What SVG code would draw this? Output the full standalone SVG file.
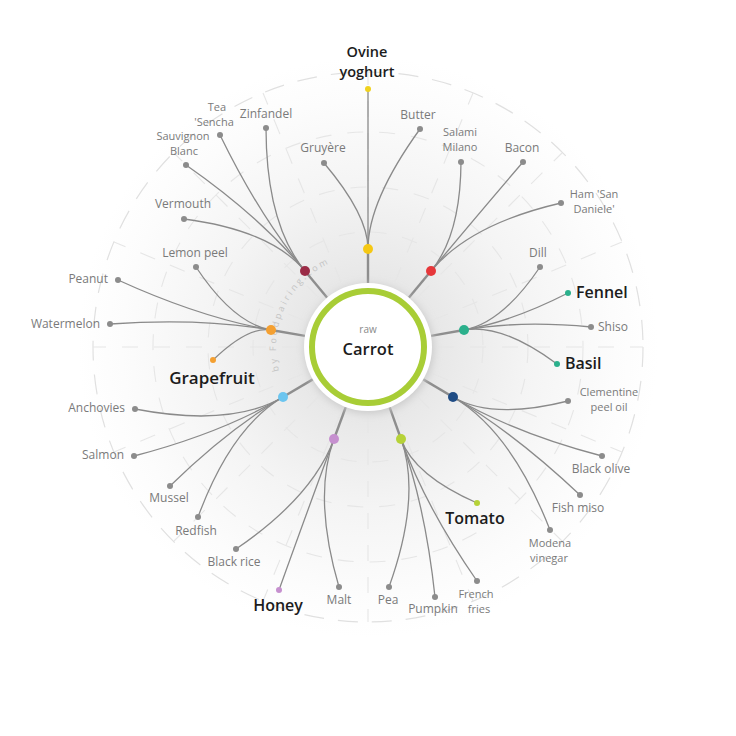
<svg xmlns="http://www.w3.org/2000/svg" width="736" height="736" viewBox="0 0 736 736">
<defs>
  <radialGradient id="bg" cx="368" cy="347" r="290" gradientUnits="userSpaceOnUse">
    <stop offset="0" stop-color="#d6d6d6"/>
    <stop offset="0.25" stop-color="#e8e8e8"/>
    <stop offset="0.55" stop-color="#f4f4f4"/>
    <stop offset="0.85" stop-color="#fcfcfc"/>
    <stop offset="1" stop-color="#ffffff"/>
  </radialGradient>
  <filter id="sh" x="-30%" y="-30%" width="160%" height="160%">
    <feGaussianBlur stdDeviation="4"/>
  </filter>
  <path id="brand" d="M 279.1 370.8 A 92 92 0 0 1 333.5 261.7"/>
</defs>
<style>
  .grid { fill: none; stroke: #e0e0e0; stroke-width: 1.2; stroke-dasharray: 20 14; }
  .gridr { fill: none; stroke: #e6e6e6; stroke-width: 1.1; stroke-dasharray: 16 16; }
  .spoke { fill: none; stroke: #8e8e8e; stroke-width: 2.4; }
  .link { fill: none; stroke: #8a8a8a; stroke-width: 1.3; }
  .leaf { fill: #8c8c8c; }
  .lbl { font-family: "Open Sans", "Liberation Sans", sans-serif; font-size: 12px; fill: #7a7a7a; text-anchor: middle; }
  .two { font-size: 11px; }
  .big { font-family: "Open Sans", "Liberation Sans", sans-serif; font-size: 16px; font-weight: 600; fill: #1c1c1c; text-anchor: middle; }
  .st { text-anchor: start; }
  .en { text-anchor: end; }
  .brand { font-family: "Open Sans", "Liberation Sans", sans-serif; font-size: 9px; fill: #c4c4c4; letter-spacing: 2.6px; }
</style>

<g id="background">
  <circle cx="368" cy="347" r="290" fill="url(#bg)"/>
  <circle class="grid" cx="368" cy="347" r="275"/>
  <circle class="gridr" cx="368" cy="347" r="215"/>
  <circle class="gridr" cx="368" cy="347" r="160"/>
  <circle class="gridr" cx="368" cy="347" r="115"/>
  <g class="gridr">
    <line x1="368" y1="277" x2="368" y2="72"/>
    <line x1="368" y1="417" x2="368" y2="622"/>
    <line x1="298" y1="347" x2="93" y2="347"/>
    <line x1="438" y1="347" x2="643" y2="347"/>
    <line x1="418" y1="297" x2="562" y2="153"/>
    <line x1="318" y1="297" x2="174" y2="153"/>
    <line x1="418" y1="397" x2="562" y2="541"/>
    <line x1="318" y1="397" x2="174" y2="541"/>
    <line x1="341" y1="282" x2="263" y2="93"/>
    <line x1="395" y1="282" x2="473" y2="93"/>
    <line x1="341" y1="412" x2="263" y2="601"/>
    <line x1="395" y1="412" x2="473" y2="601"/>
    <line x1="303" y1="320" x2="114" y2="242"/>
    <line x1="433" y1="320" x2="622" y2="242"/>
    <line x1="303" y1="374" x2="114" y2="452"/>
    <line x1="433" y1="374" x2="622" y2="452"/>
  </g>
  <text class="brand"><textPath href="#brand">by Foodpairing.com</textPath></text>
</g>

<g id="connectors">
  <!-- spokes -->
  <line class="spoke" x1="368" y1="283" x2="368" y2="249"/>
  <line class="spoke" x1="327.2" y1="297.7" x2="305" y2="271"/>
  <line class="spoke" x1="408.8" y1="297.7" x2="431" y2="271"/>
  <line class="spoke" x1="431" y1="335.9" x2="464" y2="330"/>
  <line class="spoke" x1="423.2" y1="379.4" x2="453" y2="397"/>
  <line class="spoke" x1="389.6" y1="407.2" x2="401" y2="439"/>
  <line class="spoke" x1="345.8" y1="407" x2="334" y2="439"/>
  <line class="spoke" x1="312.8" y1="379.4" x2="283" y2="397"/>
  <line class="spoke" x1="305" y1="335.9" x2="271" y2="330"/>
  <!-- yellow cluster -->
  <path class="link" d="M368,249 L368,89"/>
  <path class="link" d="M368,249 Q368,201 420,129"/>
  <path class="link" d="M368,249 Q368,215 324,163"/>
  <!-- dark red cluster -->
  <path class="link" d="M305,271 Q266.2,224.2 266,128"/>
  <path class="link" d="M305,271 Q259.4,215.9 220,135"/>
  <path class="link" d="M305,271 Q259.8,216.4 186,165"/>
  <path class="link" d="M305,271 Q271.4,230.4 184,219"/>
  <!-- red cluster -->
  <path class="link" d="M431,271 Q460.6,235.3 461,162"/>
  <path class="link" d="M431,271 Q472,221.6 523,162"/>
  <path class="link" d="M431,271 Q469.9,224.1 561,203"/>
  <!-- teal cluster -->
  <path class="link" d="M464,330 Q502,323.3 540,267"/>
  <path class="link" d="M464,330 Q512.3,321.5 568,293"/>
  <path class="link" d="M464,330 Q519.7,320.2 591,327"/>
  <path class="link" d="M464,330 Q502,323.3 557,364"/>
  <!-- navy cluster -->
  <path class="link" d="M453,397 Q492.2,420.1 568,401"/>
  <path class="link" d="M453,397 Q514.4,433.1 602,456"/>
  <path class="link" d="M453,397 Q514.7,433.3 580,495"/>
  <path class="link" d="M453,397 Q511.6,431.5 550,530"/>
  <!-- yellow-green cluster -->
  <path class="link" d="M401,439 Q414.1,475.4 477,503"/>
  <path class="link" d="M401,439 Q425.2,506.5 477,581"/>
  <path class="link" d="M401,439 Q425.4,506.8 435,597"/>
  <path class="link" d="M401,439 Q421.6,496.2 389,587"/>
  <!-- purple cluster -->
  <path class="link" d="M334,439 Q312.6,496.9 339,587"/>
  <path class="link" d="M334,439 Q308.9,506.8 279,590"/>
  <path class="link" d="M334,439 Q312.6,496.9 236,549"/>
  <!-- light blue cluster -->
  <path class="link" d="M283,397 Q231.1,427.5 135,409"/>
  <path class="link" d="M283,397 Q221.6,433.1 134,456"/>
  <path class="link" d="M283,397 Q227.7,429.5 170,486"/>
  <path class="link" d="M283,397 Q231,427.6 198,517"/>
  <!-- orange cluster -->
  <path class="link" d="M271,330 Q200.4,317.6 118,280"/>
  <path class="link" d="M271,330 Q200.3,317.6 110,324"/>
  <path class="link" d="M271,330 Q233.4,323.4 196,267"/>
  <path class="link" d="M271,330 Q248,326 213,360"/>
</g>

<g id="center">
  <circle cx="369" cy="349" r="64" fill="#c8c8c8" filter="url(#sh)"/>
  <circle cx="368" cy="347" r="64" fill="#ffffff"/>
  <circle cx="368" cy="347" r="56" fill="#ffffff" stroke="#a8cd36" stroke-width="6"/>
  <text class="lbl" x="368" y="333" style="font-size:10px;fill:#8a8a8a">raw</text>
  <text class="big" x="368" y="355" style="font-size:16.5px">Carrot</text>
</g>

<g id="hubs">
  <g id="hub-dairy"><circle cx="368" cy="249" r="5" fill="#f5c814"/></g>
  <g id="hub-wine"><circle cx="305" cy="271" r="5" fill="#9b2c47"/></g>
  <g id="hub-meat"><circle cx="431" cy="271" r="5" fill="#e6373a"/></g>
  <g id="hub-herbs"><circle cx="464" cy="330" r="5" fill="#2bb08c"/></g>
  <g id="hub-savory"><circle cx="453" cy="397" r="5" fill="#1f4c84"/></g>
  <g id="hub-veg"><circle cx="401" cy="439" r="5" fill="#b6d238"/></g>
  <g id="hub-sweet"><circle cx="334" cy="439" r="5" fill="#c690cf"/></g>
  <g id="hub-fish"><circle cx="283" cy="397" r="5" fill="#6cc5ef"/></g>
  <g id="hub-fruit"><circle cx="271" cy="330" r="5" fill="#f4a032"/></g>
</g>

<g id="ovine-yoghurt"><circle cx="368" cy="89" r="3" fill="#f0d21e"/><text class="big" x="367" y="57" style="font-size:14.5px">Ovine<tspan x="367" dy="20">yoghurt</tspan></text></g>
<g id="butter"><circle class="leaf" cx="420" cy="129" r="3"/><text class="lbl" x="418" y="119">Butter</text></g>
<g id="gruyere"><circle class="leaf" cx="324" cy="163" r="3"/><text class="lbl" x="323" y="152">Gruyère</text></g>

<g id="zinfandel"><circle class="leaf" cx="266" cy="128" r="3"/><text class="lbl" x="266" y="118">Zinfandel</text></g>
<g id="tea-sencha"><circle class="leaf" cx="220" cy="135" r="3"/><text class="lbl two" x="217" y="111">Tea<tspan x="214" dy="15">'Sencha</tspan></text></g>
<g id="sauvignon-blanc"><circle class="leaf" cx="186" cy="165" r="3"/><text class="lbl two" x="183" y="140">Sauvignon<tspan x="184" dy="15">Blanc</tspan></text></g>
<g id="vermouth"><circle class="leaf" cx="184" cy="219" r="3"/><text class="lbl" x="183" y="208">Vermouth</text></g>

<g id="salami-milano"><circle class="leaf" cx="461" cy="162" r="3"/><text class="lbl two" x="460" y="136">Salami<tspan x="460" dy="15">Milano</tspan></text></g>
<g id="bacon"><circle class="leaf" cx="523" cy="162" r="3"/><text class="lbl" x="522" y="152">Bacon</text></g>
<g id="ham-san-daniele"><circle class="leaf" cx="561" cy="203" r="3"/><text class="lbl two" x="594" y="198">Ham 'San<tspan x="594" dy="15">Daniele'</tspan></text></g>

<g id="dill"><circle class="leaf" cx="540" cy="267" r="3"/><text class="lbl" x="538" y="257">Dill</text></g>
<g id="fennel"><circle cx="568" cy="293" r="3" fill="#2bb08c"/><text class="big st" x="576" y="298">Fennel</text></g>
<g id="shiso"><circle class="leaf" cx="591" cy="327" r="3"/><text class="lbl st" x="598" y="331">Shiso</text></g>
<g id="basil"><circle cx="557" cy="364" r="3" fill="#2bb08c"/><text class="big st" x="565" y="369">Basil</text></g>

<g id="clementine-peel-oil"><circle class="leaf" cx="568" cy="401" r="3"/><text class="lbl two" x="609" y="396">Clementine<tspan x="609" dy="15">peel oil</tspan></text></g>
<g id="black-olive"><circle class="leaf" cx="602" cy="456" r="3"/><text class="lbl" x="601" y="473">Black olive</text></g>
<g id="fish-miso"><circle class="leaf" cx="580" cy="495" r="3"/><text class="lbl" x="578" y="512">Fish miso</text></g>
<g id="modena-vinegar"><circle class="leaf" cx="550" cy="530" r="3"/><text class="lbl two" x="550" y="547">Modena<tspan x="549" dy="15">vinegar</tspan></text></g>

<g id="tomato"><circle cx="477" cy="503" r="3" fill="#b6d238"/><text class="big" x="475" y="524">Tomato</text></g>
<g id="french-fries"><circle class="leaf" cx="477" cy="581" r="3"/><text class="lbl two" x="476" y="598">French<tspan x="479" dy="15">fries</tspan></text></g>
<g id="pumpkin"><circle class="leaf" cx="435" cy="597" r="3"/><text class="lbl" x="433" y="613">Pumpkin</text></g>
<g id="pea"><circle class="leaf" cx="389" cy="587" r="3"/><text class="lbl" x="388" y="604">Pea</text></g>

<g id="malt"><circle class="leaf" cx="339" cy="587" r="3"/><text class="lbl" x="339" y="604">Malt</text></g>
<g id="honey"><circle cx="279" cy="590" r="3" fill="#c690cf"/><text class="big" x="278" y="611">Honey</text></g>
<g id="black-rice"><circle class="leaf" cx="236" cy="549" r="3"/><text class="lbl" x="234" y="566">Black rice</text></g>

<g id="anchovies"><circle class="leaf" cx="135" cy="409" r="3"/><text class="lbl en" x="125" y="412">Anchovies</text></g>
<g id="salmon"><circle class="leaf" cx="134" cy="456" r="3"/><text class="lbl en" x="124" y="459">Salmon</text></g>
<g id="mussel"><circle class="leaf" cx="170" cy="486" r="3"/><text class="lbl" x="169" y="502">Mussel</text></g>
<g id="redfish"><circle class="leaf" cx="198" cy="517" r="3"/><text class="lbl" x="196" y="535">Redfish</text></g>

<g id="peanut"><circle class="leaf" cx="118" cy="280" r="3"/><text class="lbl en" x="108" y="283">Peanut</text></g>
<g id="watermelon"><circle class="leaf" cx="110" cy="324" r="3"/><text class="lbl en" x="100" y="328">Watermelon</text></g>
<g id="lemon-peel"><circle class="leaf" cx="196" cy="267" r="3"/><text class="lbl" x="195" y="257">Lemon peel</text></g>
<g id="grapefruit"><circle cx="213" cy="360" r="3" fill="#f4a032"/><text class="big" x="212" y="384" style="font-size:17px">Grapefruit</text></g>
</svg>
